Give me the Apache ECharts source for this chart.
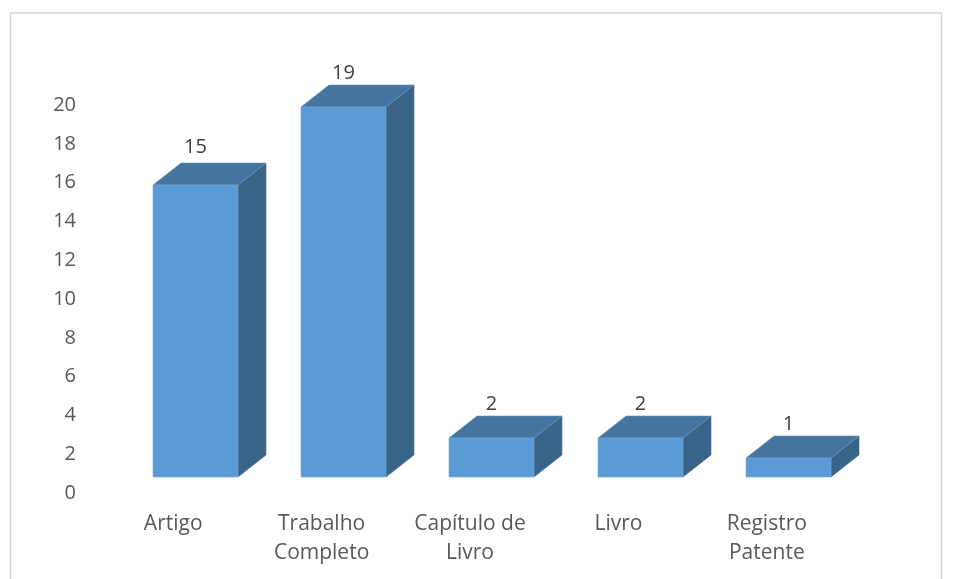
<!DOCTYPE html>
<html>
<head>
<meta charset="utf-8">
<script src="https://cdn.jsdelivr.net/npm/echarts@6/dist/echarts.min.js"></script>
<style>html,body{margin:0;padding:0;background:#fff}#c{width:955px;height:579px}</style>
</head>
<body>
<div id="c"></div>
<script>
const categories = ['Artigo', 'Trabalho\nCompleto', 'Capítulo de\nLivro', 'Livro', 'Registro\nPatente'];
const values = [15, 19, 2, 2, 1];
const yTicks = { min: 0, max: 20, interval: 2 };

const FONT = '"Open Sans", sans-serif';
const barWidth = 85, shiftX = 22, lift = 16, depthX = 28, depthY = 22;
const labelRise = [38, 34, 34, 34, 34];

function renderItem(params, api) {
  const idx = api.value(0), val = api.value(1);
  const t = api.coord([idx, val]), b = api.coord([idx, 0]);
  const x0 = Math.round(t[0] + shiftX - barWidth / 2), x1 = x0 + barWidth;
  const yT = Math.round(t[1] - lift) - (val > 10 ? 1 : 0), yB = Math.round(b[1] - lift);
  return {
    type: 'group',
    children: [
      { type: 'polygon', shape: { points: [[x1, yT], [x1 + depthX, yT - depthY], [x1 + depthX, yB - depthY], [x1, yB]] },
        style: { fill: '#3A6487', stroke: '#4a7398', lineWidth: 0.6 } },
      { type: 'polygon', shape: { points: [[x0, yT], [x0 + depthX, yT - depthY], [x1 + depthX, yT - depthY], [x1, yT]] },
        style: { fill: '#44749F', stroke: '#6d93b8', lineWidth: 0.6 } },
      { type: 'rect', shape: { x: x0, y: yT, width: barWidth, height: yB - yT },
        style: { fill: '#5B9BD5', stroke: '#74a9da', lineWidth: 0.6 } },
      { type: 'text', x: (x0 + x1) / 2, y: yT - labelRise[idx],
        style: { text: String(val), fill: '#404040', font: '20px ' + FONT, align: 'center', verticalAlign: 'middle' } }
    ]
  };
}

const chart = echarts.init(document.getElementById('c'), null, { renderer: 'canvas' });
chart.setOption({
  animation: false,
  backgroundColor: '#ffffff',
  graphic: [{
    type: 'rect', silent: true, z: -1,
    shape: { x: 10.5, y: 13, width: 931, height: 600 },
    style: { fill: 'none', stroke: '#D9D9D9', lineWidth: 1.5 }
  }],
  grid: { left: 99, right: 114, top: 105, bottom: 86, containLabel: false },
  xAxis: {
    type: 'category',
    data: categories,
    axisLine: { show: false },
    axisTick: { show: false },
    axisLabel: { interval: 0, margin: 17, color: '#595959', fontFamily: FONT, fontSize: 21, lineHeight: 29, align: 'center' }
  },
  yAxis: {
    type: 'value',
    min: yTicks.min, max: yTicks.max, interval: yTicks.interval,
    axisLine: { show: false },
    axisTick: { show: false },
    splitLine: { show: false },
    axisLabel: { margin: 23, color: '#595959', fontFamily: FONT, fontSize: 20, padding: [3, 0, 0, 0] }
  },
  series: [{
    type: 'custom',
    renderItem,
    clip: false,
    encode: { x: 0, y: 1 },
    data: values.map((v, i) => [i, v])
  }]
});
</script>
</body>
</html>
